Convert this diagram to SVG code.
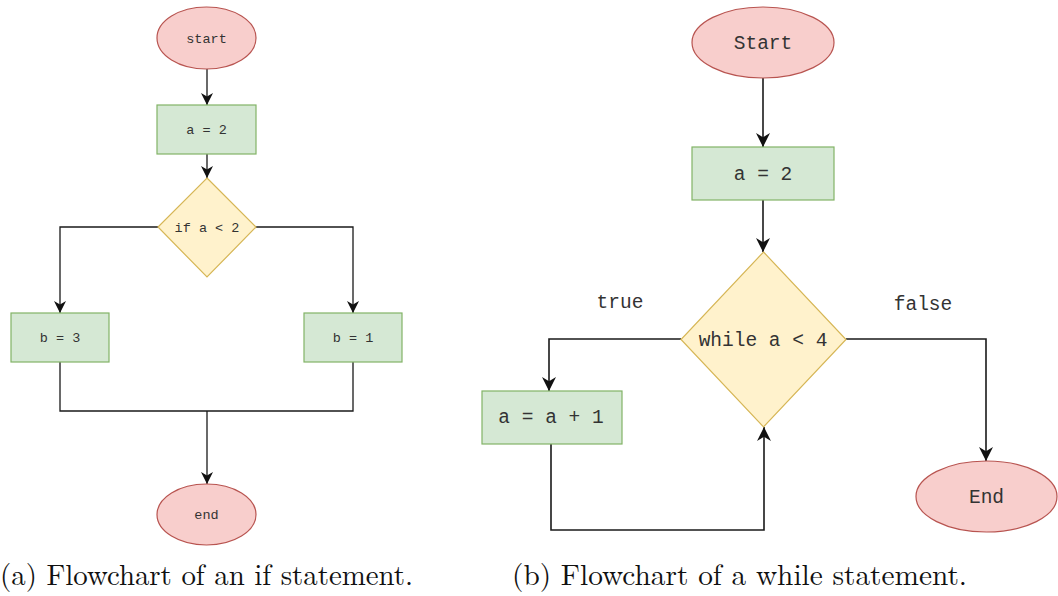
<svg xmlns="http://www.w3.org/2000/svg" width="1058" height="596" viewBox="0 0 1058 596">
  <style>
    .term { fill: #f8cecc; stroke: #b85450; stroke-width: 1.2; }
    .proc { fill: #d5e8d4; stroke: #82b366; stroke-width: 1.2; }
    .dec  { fill: #fff2cc; stroke: #d6b656; stroke-width: 1.2; }
    .edge { fill: none; stroke: #1a1a1a; stroke-width: 1.3; }
    .edge2 { fill: none; stroke: #1a1a1a; stroke-width: 1.6; }
    .lbl-s { font-family: "Liberation Mono", "Courier New", monospace; font-size: 13.5px; fill: #333; text-anchor: middle; }
    .lbl-l { font-family: "Liberation Mono", "Courier New", monospace; font-size: 19.5px; fill: #333; text-anchor: middle; }
    .cap { font-family: "Latin Modern Roman", "Liberation Serif", "Times New Roman", serif; font-size: 29px; fill: #111; }
  </style>
  <defs>
    <marker id="arrS" markerUnits="userSpaceOnUse" markerWidth="12" markerHeight="12" viewBox="0 0 10 10" refX="10" refY="5" orient="auto">
      <path d="M0,0 L10,5 L0,10 L3,5 z" fill="#111"/>
    </marker>
    <marker id="arrL" markerUnits="userSpaceOnUse" markerWidth="14" markerHeight="14" viewBox="0 0 10 10" refX="10" refY="5" orient="auto">
      <path d="M0,0 L10,5 L0,10 L3,5 z" fill="#111"/>
    </marker>
  </defs>

  <!-- (a) if statement -->
  <g id="connectors-if">
    <path class="edge" d="M207,69 V105" marker-end="url(#arrS)"/>
    <path class="edge" d="M207,154 V178" marker-end="url(#arrS)"/>
    <path class="edge" d="M158,227 H60 V313" marker-end="url(#arrS)"/>
    <path class="edge" d="M256,227 H353 V313" marker-end="url(#arrS)"/>
    <path class="edge" d="M60,362 V411 H353 V362"/>
    <path class="edge" d="M207,411 V484" marker-end="url(#arrS)"/>
  </g>
  <g id="if-start">
    <ellipse class="term" cx="206.5" cy="38" rx="49.5" ry="31"/>
    <text class="lbl-s" x="206.5" y="42.5">start</text>
  </g>
  <g id="if-assign">
    <rect class="proc" x="157" y="105" width="99" height="49"/>
    <text class="lbl-s" x="206.5" y="134">a = 2</text>
  </g>
  <g id="if-cond">
    <polygon class="dec" points="207,178 256,227 207,277 158,227"/>
    <text class="lbl-s" x="207" y="231.5">if a &lt; 2</text>
  </g>
  <g id="if-b3">
    <rect class="proc" x="11" y="313" width="98" height="49"/>
    <text class="lbl-s" x="60" y="342">b = 3</text>
  </g>
  <g id="if-b1">
    <rect class="proc" x="304" y="313" width="98" height="49"/>
    <text class="lbl-s" x="353" y="342">b = 1</text>
  </g>
  <g id="if-end">
    <ellipse class="term" cx="206.5" cy="514.5" rx="49.5" ry="30.5"/>
    <text class="lbl-s" x="206.5" y="519">end</text>
  </g>
  <text class="cap" x="0" y="585" textLength="413" lengthAdjust="spacingAndGlyphs">(a) Flowchart of an if statement.</text>

  <!-- (b) while statement -->
  <g id="connectors-while">
    <path class="edge2" d="M763,78 V147" marker-end="url(#arrL)"/>
    <path class="edge2" d="M763,200 V252" marker-end="url(#arrL)"/>
    <path class="edge2" d="M681,339 H549 V391" marker-end="url(#arrL)"/>
    <path class="edge2" d="M551,444 V530 H764 V427" marker-end="url(#arrL)"/>
    <path class="edge2" d="M846,339 H986 V461" marker-end="url(#arrL)"/>
    <text class="lbl-l" x="620" y="308">true</text>
    <text class="lbl-l" x="923" y="310">false</text>
  </g>
  <g id="while-start">
    <ellipse class="term" cx="763" cy="42.5" rx="71" ry="35.5"/>
    <text class="lbl-l" x="763" y="48.5">Start</text>
  </g>
  <g id="while-assign">
    <rect class="proc" x="692" y="147" width="142" height="53"/>
    <text class="lbl-l" x="763" y="180">a = 2</text>
  </g>
  <g id="while-cond">
    <polygon class="dec" points="763.5,252 846,339.5 763.5,427 681,339.5"/>
    <text class="lbl-l" x="763" y="345.5">while a &lt; 4</text>
  </g>
  <g id="while-inc">
    <rect class="proc" x="482" y="391" width="140" height="53"/>
    <text class="lbl-l" x="551" y="423">a = a + 1</text>
  </g>
  <g id="while-end">
    <ellipse class="term" cx="986.5" cy="496.5" rx="70.5" ry="35.5"/>
    <text class="lbl-l" x="986.5" y="502.5">End</text>
  </g>
  <text class="cap" x="512" y="585" textLength="455" lengthAdjust="spacingAndGlyphs">(b) Flowchart of a while statement.</text>
</svg>
